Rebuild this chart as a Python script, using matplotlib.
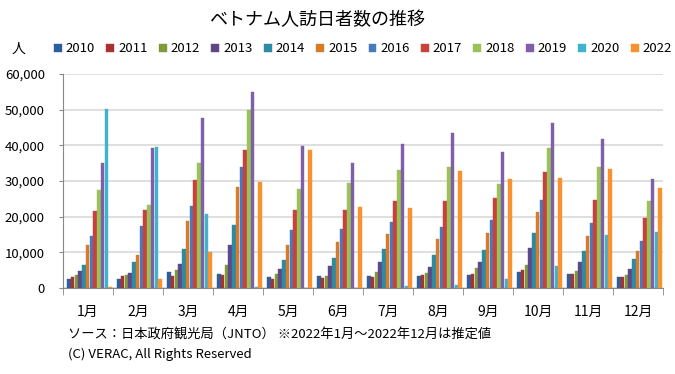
import matplotlib
matplotlib.use("Agg")
import matplotlib.pyplot as plt
import numpy as np

plt.rcParams['font.family'] = ['Noto Sans CJK JP', 'DejaVu Sans']

months = ['1月', '2月', '3月', '4月', '5月', '6月', '7月', '8月', '9月', '10月', '11月', '12月']
years = ['2010', '2011', '2012', '2013', '2014', '2015', '2016', '2017', '2018', '2019', '2020', '2022']

# monthly visitors per year
v2010 = [2600, 2600, 4600, 3900, 3100, 3500, 3300, 3400, 3600, 4500, 3900, 3100]
v2011 = [3200, 3300, 3300, 3700, 2600, 2800, 3000, 3600, 4000, 5000, 3900, 3100]
v2012 = [3550, 3550, 5000, 6400, 4000, 3500, 4500, 4100, 5500, 6500, 4800, 3700]
v2013 = [4900, 4300, 6700, 12000, 5400, 6300, 7300, 5900, 7300, 11300, 7300, 5300]
v2014 = [6500, 7300, 11000, 17800, 7800, 8400, 10900, 9300, 10600, 15300, 10400, 8100]
v2015 = [12100, 9300, 18700, 28300, 12100, 12900, 15200, 13600, 15400, 21300, 14700, 10400]
v2016 = [14600, 17400, 23100, 33900, 16300, 16600, 18500, 17000, 19200, 24700, 18200, 13100]
v2017 = [21500, 21900, 30400, 38700, 22000, 21800, 24500, 24500, 25100, 32400, 24800, 19600]
v2018 = [27500, 23200, 35000, 50000, 27800, 29300, 33200, 33900, 29100, 39200, 33900, 24400]
v2019 = [35100, 39200, 47600, 55000, 39700, 35100, 40500, 43400, 38000, 46300, 41700, 30500]
v2020 = [50100, 39600, 20700, 200, 100, 100, 600, 900, 2600, 6300, 14800, 15700]
v2022 = [400, 2500, 10000, 29800, 38800, 22700, 22400, 32800, 30700, 30800, 33500, 28100]

series = [v2010, v2011, v2012, v2013, v2014, v2015, v2016, v2017, v2018, v2019, v2020, v2022]
colors = ['#2E5E9B', '#A8322F', '#7E9A3A', '#5F4888', '#2B8BA3', '#D97A28',
          '#4779BE', '#C9403C', '#9BC256', '#7E5FA8', '#3FB2CF', '#F7922E']

fig = plt.figure(figsize=(6.75, 3.74), dpi=100)
ax = fig.add_axes([63 / 675, 86 / 374, 600 / 675, 214 / 374])

x = np.arange(len(months))
n = len(series)
w = 0.9 / n
for i, (vals, c) in enumerate(zip(series, colors)):
    ax.bar(x - 0.42 + w * (i + 0.5), vals, width=w * 0.9, color=c,
           edgecolor=c, linewidth=0.3, label=years[i], zorder=3)

ax.set_xlim(-0.5, 11.5)
ax.set_ylim(0, 60000)
ax.set_yticks(range(0, 60001, 10000))
ax.set_yticklabels([f'{t:,}' for t in range(0, 60001, 10000)], fontsize=9.5)
ax.yaxis.grid(True, color='#D9D9D9', linewidth=1.2, zorder=0)
ax.set_xticks(x)
ax.set_xticklabels(months, fontsize=10)
ax.set_xticks(np.arange(-0.5, 12, 1), minor=True)
ax.tick_params(axis='x', which='major', length=0, pad=12)
ax.tick_params(axis='x', which='minor', length=5, color='#888888')
ax.tick_params(axis='y', length=3, color='#888888', pad=10)
for s in ['top', 'right']:
    ax.spines[s].set_visible(False)
ax.spines['left'].set_color('#888888')
ax.spines['bottom'].set_color('#888888')

fig.text(317 / 675, 1 - 20 / 374, 'ベトナム人訪日者数の推移', ha='center', va='center', fontsize=13)
fig.text(18 / 675, 1 - 49 / 374, '人', ha='center', va='center', fontsize=10)
fig.legend(loc='center', bbox_to_anchor=(363 / 675, 1 - 49 / 374), ncol=12, frameon=False,
           fontsize=9.5, handlelength=0.6, handleheight=0.6, handletextpad=0.3,
           columnspacing=0.85, borderaxespad=0)

fig.text(68 / 675, 1 - 334 / 374, 'ソース：日本政府観光局（JNTO） ※2022年1月～2022年12月は推定値',
         ha='left', va='center', fontsize=9.5)
fig.text(68 / 675, 1 - 354 / 374, '(C) VERAC, All Rights Reserved', ha='left', va='center', fontsize=9.5)

fig.savefig('out.png', dpi=100)
